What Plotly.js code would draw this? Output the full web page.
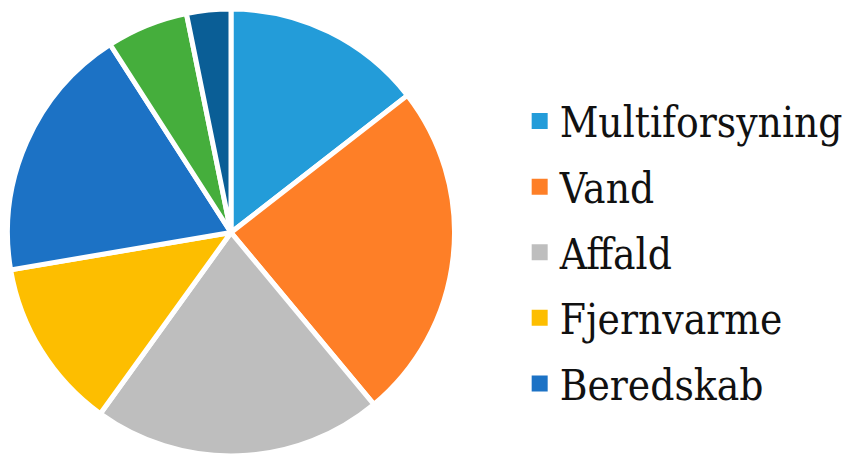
<!DOCTYPE html>
<html>
<head>
<meta charset="utf-8">
<script src="https://cdn.plot.ly/plotly-3.0.1.min.js"></script>
<style>html,body{margin:0;padding:0;background:#fff;}#chart{width:848px;height:456px;}</style>
</head>
<body>
<div id="chart"></div>
<script>
const sliceLabels = ["Multiforsyning", "Vand", "Affald", "Fjernvarme", "Beredskab", "Kategori 6", "Kategori 7"];
const sliceValues = [14.5, 24.5, 21.0, 12.4, 18.6, 5.9, 3.2];
const sliceColors = ["#239cd9", "#fe7f27", "#bebebe", "#fdbe00", "#1c72c5", "#45ae3c", "#0a5e96"];
const legendCount = 5;

const traces = [{
  type: "pie",
  labels: sliceLabels,
  values: sliceValues,
  sort: false,
  direction: "clockwise",
  rotation: 0,
  textinfo: "none",
  hoverinfo: "label+percent",
  showlegend: false,
  marker: {colors: sliceColors, line: {color: "#ffffff", width: 5}},
  domain: {x: [0, 0.5327], y: [0, 1]}
}];
for (let i = 0; i < legendCount; i++) {
  traces.push({
    type: "scatter",
    x: [null], y: [null],
    mode: "markers",
    name: sliceLabels[i],
    legendgroup: "g" + i,
    marker: {symbol: "square", size: 16, color: sliceColors[i], line: {width: 0}},
    hoverinfo: "skip"
  });
}

const layout = {
  width: 848, height: 456,
  margin: {l: 7, r: 0, t: 9, b: 0},
  paper_bgcolor: "#ffffff",
  plot_bgcolor: "#ffffff",
  font: {family: "'DejaVu Serif Condensed', 'DejaVu Serif', serif", color: "#111111"},
  xaxis: {visible: false},
  yaxis: {visible: false},
  showlegend: true,
  legend: {
    x: 0.6096, xanchor: "left",
    y: 0.825, yanchor: "top",
    font: {size: 42, color: "#111111"},
    traceorder: "grouped",
    tracegroupgap: 8,
    bgcolor: "rgba(0,0,0,0)"
  }
};

Plotly.newPlot("chart", traces, layout, {displayModeBar: false, staticPlot: true});
</script>
</body>
</html>
